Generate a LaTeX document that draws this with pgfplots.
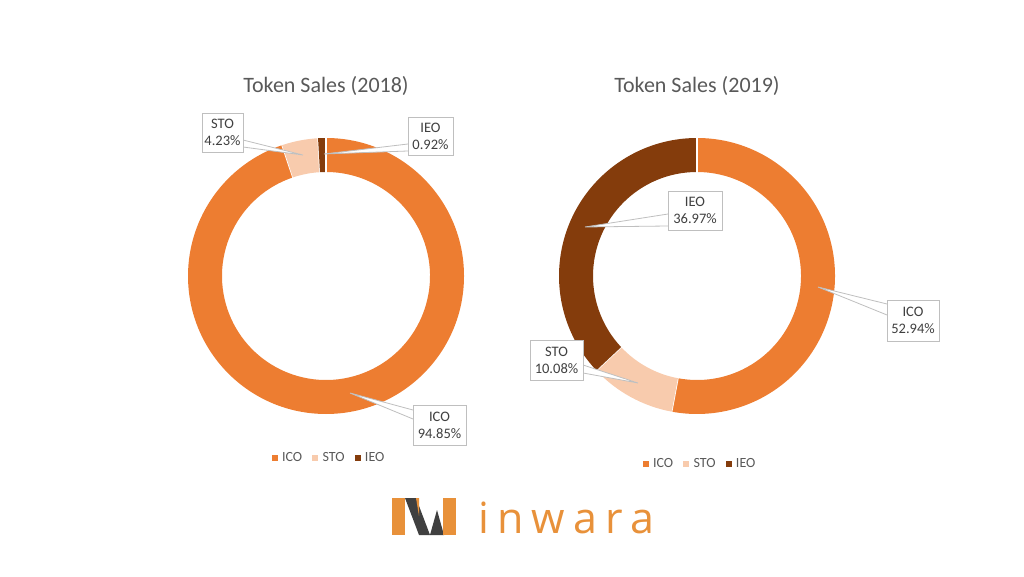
\documentclass[border=0pt]{standalone}
\usepackage{fontspec}
\setmainfont{Carlito}
\newfontfamily\logofont[LetterSpace=19]{Open Sans}
\usepackage{pgfplots}
\pgfplotsset{compat=1.18}

\definecolor{ico}{HTML}{ED7D31}
\definecolor{sto}{HTML}{F8CBAD}
\definecolor{ieo}{HTML}{843C0C}
\definecolor{txt}{HTML}{595959}
\definecolor{lbl}{HTML}{404040}
\definecolor{edge}{HTML}{BFBFBF}
\definecolor{logoorange}{HTML}{E8913A}
\definecolor{logogray}{HTML}{404040}

% ring segment: centre x, centre y, from %, to %, colour
\newcommand{\ring}[5]{%
  \fill[#5] ([shift={({90-3.6*#3}:138pt)}]axis cs:#1,#2)
    arc[start angle={90-3.6*#3}, end angle={90-3.6*#4}, radius=138pt]
    -- ([shift={({90-3.6*#4}:104pt)}]axis cs:#1,#2)
    arc[start angle={90-3.6*#4}, end angle={90-3.6*#3}, radius=104pt] -- cycle;
  \draw[white, line width=1.5pt] ([shift={({90-3.6*#4}:103pt)}]axis cs:#1,#2)
    -- ([shift={({90-3.6*#4}:139pt)}]axis cs:#1,#2);
}
% callout pointer: base1, base2, tip
\newcommand{\pointer}[6]{%
  \filldraw[fill=white, draw=edge, line width=0.8pt]
    (axis cs:#1,#2) -- (axis cs:#5,#6) -- (axis cs:#3,#4);
}
% callout box: x1, y1, x2, y2, name, value
\newcommand{\callbox}[6]{%
  \filldraw[fill=white, draw=edge, line width=0.8pt] (axis cs:#1,#2) rectangle (axis cs:#3,#4);
  \node[align=center, text=lbl, font=\fontsize{14.5}{17}\selectfont, inner sep=0pt]
    at (axis cs:{(#1+#3)/2},{(#2+#4)/2}) {#5\\#6};
}

\pgfplotsset{
  base/.style={
    scale only axis, width=1024pt, height=576pt,
    xmin=0, xmax=1024, ymin=0, ymax=576,
    hide axis, clip=false,
    legend columns=3,
    legend image code/.code={\fill[##1] (0pt,-2.6pt) rectangle (5.2pt,2.6pt); \path (8pt,0pt);},
    legend style={draw=none, fill=none, anchor=center,
      font=\fontsize{14}{17}\selectfont, text=txt,
      /tikz/every even column/.append style={column sep=8pt}},
  }
}

\begin{document}
\begin{tikzpicture}
% ---------- 2018 ----------
\begin{axis}[base, legend style={at={(0.3213,0.2049)}}]
\path (axis cs:0,0) rectangle (axis cs:1024,576);
\addlegendimage{ico}\addlegendentry{ICO}
\addlegendimage{sto}\addlegendentry{STO}
\addlegendimage{ieo}\addlegendentry{IEO}

\node[font=\fontsize{22}{26}\selectfont, text=txt] at (axis cs:326,490) {Token Sales (2018)};

% ICO 94.85, STO 4.23, IEO 0.92
\ring{326}{300}{0}{94.85}{ico}
\ring{326}{300}{94.85}{99.08}{sto}
\ring{326}{300}{99.08}{100}{ieo}

\pointer{243}{436}{243}{429}{303}{421}
\callbox{202}{424}{243}{463}{STO}{4.23\%}
\pointer{408}{432}{408}{425}{324}{422}
\callbox{408}{421}{453}{459}{IEO}{0.92\%}
\pointer{413}{166}{413}{157}{350}{183}
\callbox{413}{131}{466}{171}{ICO}{94.85\%}

% logo
\fill[logoorange] (axis cs:392,41) rectangle (axis cs:405,78);
\fill[logogray] (axis cs:405,78) -- (axis cs:416,78) -- (axis cs:430,41) -- (axis cs:419,41) -- cycle;
\fill[logoorange] (axis cs:416,78) -- (axis cs:419,78) -- (axis cs:419,60) -- cycle;
\fill[logogray] (axis cs:430,41) -- (axis cs:437,66) -- (axis cs:444,41) -- cycle;
\fill[logoorange] (axis cs:443,41) rectangle (axis cs:456,78);
\node[anchor=base west, inner sep=0pt, text=logoorange,
  font=\logofont\fontsize{43}{44}\selectfont] at (axis cs:478,43) {inwara};
\end{axis}

% ---------- 2019 ----------
\begin{axis}[base, legend style={at={(0.6836,0.1944)}}]
\addlegendimage{ico}\addlegendentry{ICO}
\addlegendimage{sto}\addlegendentry{STO}
\addlegendimage{ieo}\addlegendentry{IEO}

\node[font=\fontsize{22}{26}\selectfont, text=txt] at (axis cs:697,490) {Token Sales (2019)};

% ICO 52.94, STO 10.08, IEO 36.97
\ring{697}{300}{0}{52.94}{ico}
\ring{697}{300}{52.94}{63.02}{sto}
\ring{697}{300}{63.02}{100}{ieo}

\pointer{668}{362}{668}{350}{585}{349}
\callbox{668}{346}{722}{385}{IEO}{36.97\%}
\pointer{583}{211}{583}{203}{638}{193}
\callbox{530}{196}{583}{236}{STO}{10.08\%}
\pointer{887}{272}{887}{261}{818}{289}
\callbox{887}{235}{939}{276}{ICO}{52.94\%}
\end{axis}
\end{tikzpicture}
\end{document}
